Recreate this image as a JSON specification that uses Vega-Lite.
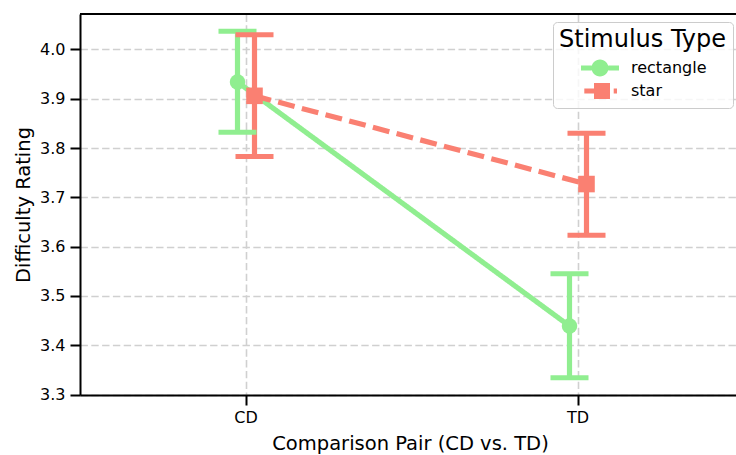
{
  "$schema": "https://vega.github.io/schema/vega-lite/v6.json",
  "width": 656,
  "height": 381,
  "autosize": {"type": "none"},
  "padding": {"left": 80, "top": 14, "right": 0, "bottom": 60},
  "background": "white",
  "config": {
    "view": {"stroke": null},
    "font": "DejaVu Sans",
    "axis": {
      "labelFont": "DejaVu Sans", "titleFont": "DejaVu Sans",
      "labelColor": "black", "titleColor": "black",
      "titleFontWeight": "normal",
      "domainColor": "black", "domainWidth": 2,
      "tickColor": "black", "tickWidth": 2, "tickSize": 10,
      "gridColor": "#d0d0d0", "gridWidth": 1.6, "gridDash": [7.4, 3.4]
    },
    "legend": {
      "orient": "none", "legendX": 473, "legendY": 8,
      "padding": 6, "strokeColor": "#cccccc", "fillColor": "rgba(255,255,255,0.8)",
      "cornerRadius": 4,
      "titleFont": "DejaVu Sans", "titleFontSize": 24, "titleFontWeight": "normal", "titleColor": "black",
      "titlePadding": 5,
      "labelFont": "DejaVu Sans", "labelFontSize": 16, "labelColor": "black",
      "symbolSize": 400, "symbolOffset": 30, "labelOffset": 20, "rowPadding": 0, "symbolOpacity": 1
    }
  },
  "data": {
    "values": [
      {"pair": "CD", "stimulus": "rectangle", "mean": 3.934, "lo": 3.832, "hi": 4.037},
      {"pair": "TD", "stimulus": "rectangle", "mean": 3.439, "lo": 3.334, "hi": 3.545},
      {"pair": "CD", "stimulus": "star", "mean": 3.906, "lo": 3.783, "hi": 4.030},
      {"pair": "TD", "stimulus": "star", "mean": 3.727, "lo": 3.623, "hi": 3.830}
    ]
  },
  "encoding": {
    "x": {
      "field": "pair", "type": "nominal", "sort": ["CD", "TD"],
      "scale": {"type": "band", "paddingInner": 0, "paddingOuter": 0, "range": [0, 664]},
      "axis": {
        "title": "Comparison Pair (CD vs. TD)", "titleFontSize": 19.5,
        "titleX": 330, "titleY": 54, "titleBaseline": "alphabetic", "titleAnchor": "start", "titleAlign": "center",
        "labelFontSize": 16, "labelAngle": 0, "labelPadding": 4,
        "grid": true, "bandPosition": 0.5
      }
    },
    "xOffset": {
      "field": "stimulus", "type": "nominal", "sort": ["rectangle", "star"],
      "scale": {"paddingInner": 0, "paddingOuter": 0, "range": [149, 183]}
    },
    "y": {
      "field": "mean", "type": "quantitative",
      "scale": {"domain": [3.299, 4.072], "nice": false, "zero": false},
      "axis": {
        "title": "Difficulty Rating", "titleFontSize": 19.5,
        "titleX": -51, "titleBaseline": "alphabetic",
        "values": [3.3, 3.4, 3.5, 3.6, 3.7, 3.8, 3.9, 4.0], "format": ".1f",
        "labelFontSize": 16, "labelPadding": 5, "grid": true
      }
    },
    "color": {"condition": {"test": "datum.stimulus === 'star'", "value": "#fa8072"}, "value": "#90ee90"}
  },
  "layer": [
    {
      "mark": {"type": "point", "filled": true, "size": 0, "opacity": 1},
      "encoding": {
        "color": {
          "field": "stimulus", "type": "nominal",
          "scale": {"domain": ["rectangle", "star"], "range": ["#90ee90", "#fa8072"]},
          "title": "Stimulus Type"
        },
        "shape": {
          "field": "stimulus", "type": "nominal",
          "scale": {
            "domain": ["rectangle", "star"],
            "range": [
              "M-1.9,-0.25H-0.83V0.25H-1.9Z M0.83,-0.25H1.9V0.25H0.83Z M0.85,0A0.85,0.85 0 1,1 -0.85,0A0.85,0.85 0 1,1 0.85,0Z",
              "M-1.57,-0.25H-0.6V0.25H-1.57Z M-0.6,-0.8H1.0V0.8H-0.6Z M1.37,-0.25H1.7V0.25H1.37Z"
            ]
          },
          "title": "Stimulus Type"
        }
      }
    },
    {
      "mark": {"type": "line", "strokeWidth": 5.2},
      "encoding": {
        "detail": {"field": "stimulus", "type": "nominal"},
        "strokeDash": {"condition": {"test": "datum.stimulus === 'star'", "value": [17, 7.5]}, "value": [1, 0]}
      }
    },
    {
      "mark": {"type": "rule", "strokeWidth": 5.2},
      "encoding": {
        "y": {"field": "lo", "type": "quantitative"},
        "y2": {"field": "hi"}
      }
    },
    {
      "mark": {"type": "tick", "orient": "horizontal", "size": 38, "thickness": 5, "opacity": 1},
      "encoding": {"y": {"field": "lo", "type": "quantitative"}}
    },
    {
      "mark": {"type": "tick", "orient": "horizontal", "size": 38, "thickness": 5, "opacity": 1},
      "encoding": {"y": {"field": "hi", "type": "quantitative"}}
    },
    {
      "transform": [{"filter": "datum.stimulus === 'rectangle'"}],
      "mark": {"type": "point", "shape": "circle", "filled": true, "size": 240, "opacity": 1}
    },
    {
      "transform": [{"filter": "datum.stimulus === 'star'"}],
      "mark": {"type": "point", "shape": "square", "filled": true, "size": 275, "opacity": 1}
    },
    {
      "mark": {"type": "rule", "color": "black", "strokeWidth": 2},
      "encoding": {
        "x": {"value": 0},
        "x2": {"value": 736},
        "y": {"value": 0},
        "xOffset": null,
        "color": {"value": "black"}
      }
    }
  ]
}
